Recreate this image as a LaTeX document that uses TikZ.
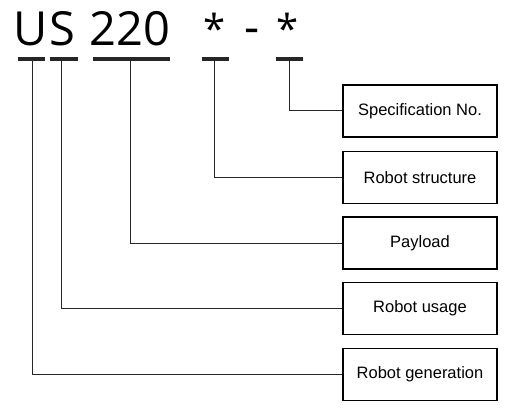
\documentclass[tikz,border=0pt]{standalone}
\usepackage{fontspec}
\setmainfont{Liberation Sans}
\newfontfamily\codefont{Open Sans}
\begin{document}
\begin{tikzpicture}[x=1pt, y=-1pt,
    infobox/.style={draw, line width=1.1pt, minimum width=154pt, minimum height=52pt,
        inner sep=0pt, font=\fontsize{16.5}{19}\selectfont},
    codechar/.style={anchor=base, inner sep=0pt, font=\codefont\fontsize{47}{56}\selectfont},
    bar/.style={line width=4.5pt, black!85},
    lead/.style={line width=1pt, black!85}]
    \useasboundingbox (0,0) rectangle (510,411);

    % 型号
    \node[codechar] (u) at (31,46) {U};
    \node[codechar] (s) at (62,46) {S};
    \node[codechar] (num) at (130,46) {220};
    \node[codechar, font=\codefont\fontsize{40}{48}\selectfont] (star1) at (215,44) {*};
    \node[codechar] (dash) at (252,44) {-};
    \node[codechar, font=\codefont\fontsize{40}{48}\selectfont] (star2) at (288,44) {*};

    % 下划线
    \draw[bar] (18,59) -- (45,59);
    \draw[bar] (50,59) -- (78,59);
    \draw[bar] (93,59) -- (170,59);
    \draw[bar] (202,59) -- (229,59);
    \draw[bar] (276,59) -- (303,59);
    \coordinate (ubar) at (32,59);
    \coordinate (sbar) at (61,59);
    \coordinate (numbar) at (130,59);
    \coordinate (star1bar) at (214,59);
    \coordinate (star2bar) at (289,59);

    % 说明框
    \node[infobox] (spec) at (420,111) {Specification No.};
    \node[infobox] (struct) at (420,177.5) {Robot structure};
    \node[infobox] (payload) at (420,243) {Payload};
    \node[infobox] (usage) at (420,308.5) {Robot usage};
    \node[infobox] (gen) at (420,374.5) {Robot generation};

    % 引线
    \draw[lead] (star2bar) |- (spec.west);
    \draw[lead] (star1bar) |- (struct.west);
    \draw[lead] (numbar) |- (payload.west);
    \draw[lead] (sbar) |- (usage.west);
    \draw[lead] (ubar) |- (gen.west);
\end{tikzpicture}
\end{document}
